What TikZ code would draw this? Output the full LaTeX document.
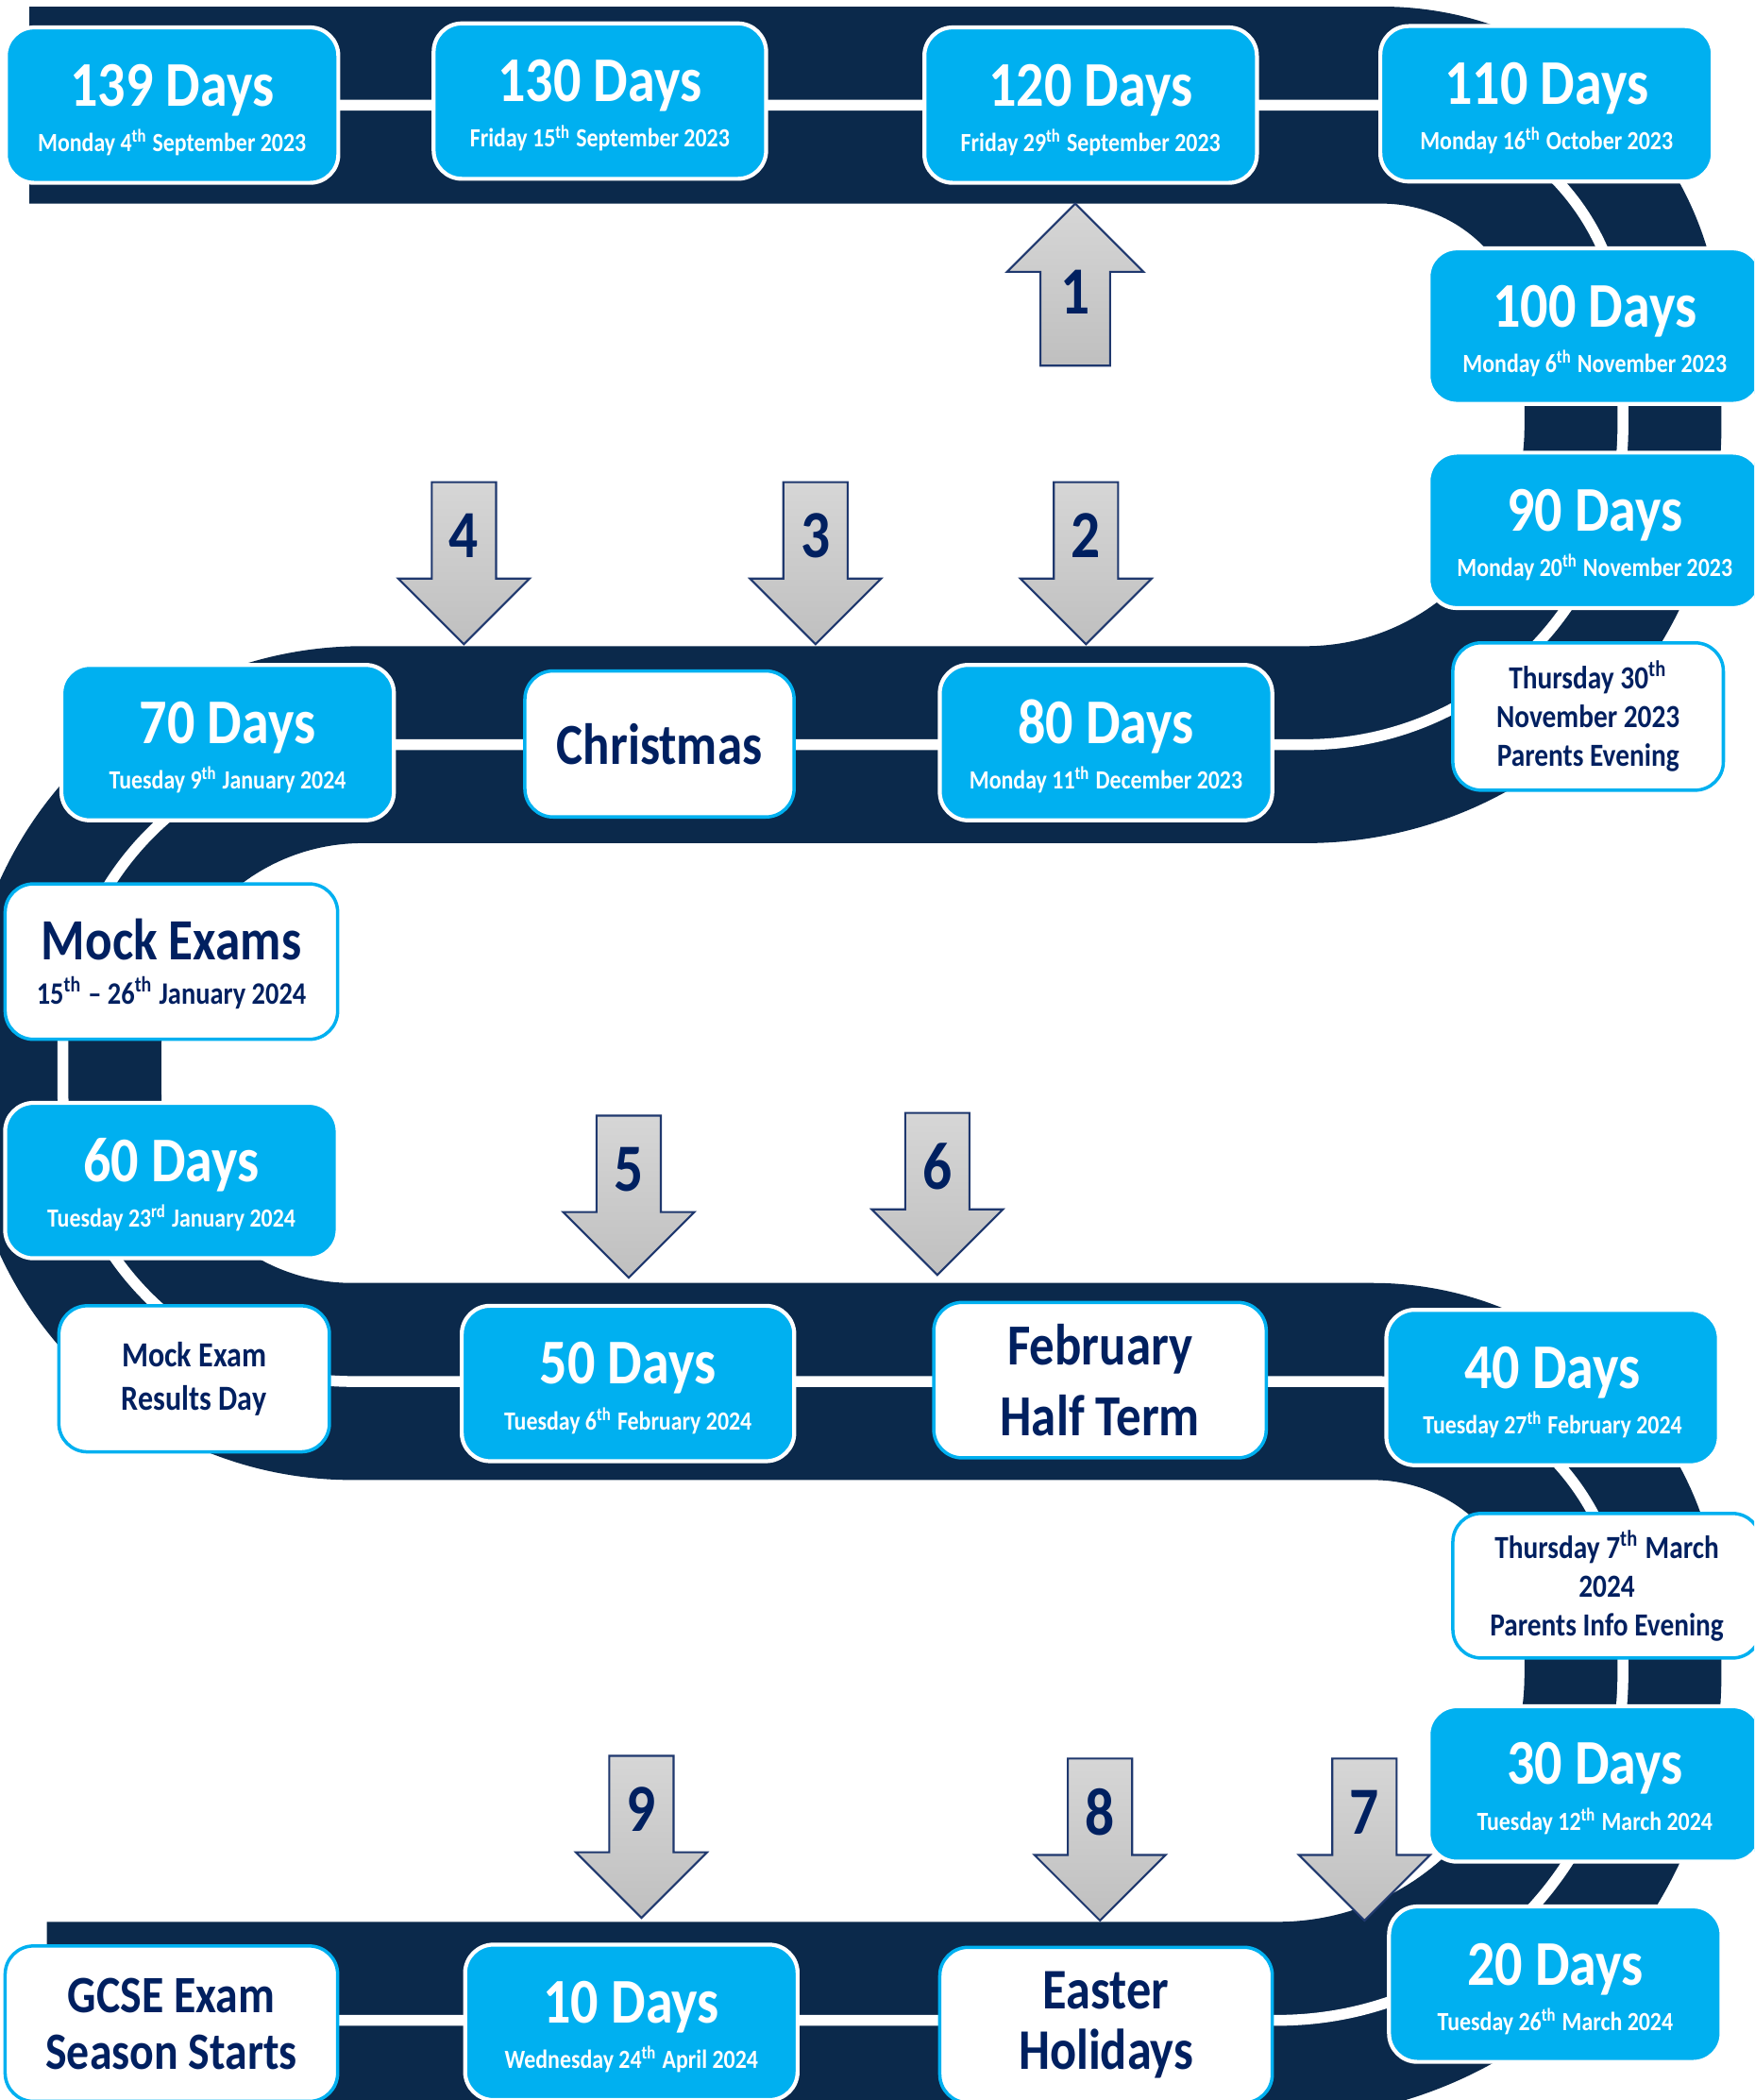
\documentclass[tikz,border=0pt]{standalone}
\usepackage{fontspec}
\setmainfont{Carlito}[FakeStretch=0.86]
\usetikzlibrary{positioning}

\definecolor{roadblue}{RGB}{11,41,75}
\definecolor{skyblue}{RGB}{0,176,240}
\definecolor{navy}{RGB}{0,32,96}
\definecolor{arrowedge}{RGB}{31,56,110}

% blue countdown box: name, position, title, date
\newcommand{\daybox}[4]{%
	\node[daybox]   (#1)       at (#2)                        {};
	\node[daytitle] (#1-title) at ([yshift=-0.2pt]#1.center)  {#3};
	\node[daydate]  (#1-date)  at ([yshift=-13.9pt]#1.center) {#4};
}

\begin{document}
\begin{tikzpicture}[x=0.01418cm, y=-0.01418cm,
	box/.style={rounded corners=0.3cm, minimum width=3.52cm, minimum height=1.645cm, inner sep=0pt},
	daybox/.style={box, fill=skyblue, draw=white, line width=1.2pt},
	evbox/.style={box, fill=white, draw=skyblue, line width=1pt, text=navy, align=center},
	daytitle/.style={anchor=base, inner sep=0pt, text=white, font=\bfseries\fontsize{19.2}{23}\selectfont},
	daydate/.style={anchor=base, inner sep=0pt, text=white, font=\bfseries\fontsize{7.9}{9}\selectfont},
	road/.style={draw=roadblue, line width=0.985cm, double=white, double distance=0.115cm},
	arrowbody/.style={draw=arrowedge, line width=0.6pt, top color=gray!32, bottom color=gray!50},
	arrownum/.style={text=navy, inner sep=0pt, font=\bfseries\fontsize{20.3}{24}\selectfont},
	pics/downarrow/.style={code={
		\draw[arrowbody] (-24,0) -- (24,0) -- (24,72) -- (49,72) -- (0,121) -- (-49,72) -- (-24,72) -- cycle;
		\node[arrownum] (-num) at (0,40) {#1};
	}},
	pics/uparrow/.style={code={
		\draw[arrowbody] (0,0) -- (51,51) -- (26,51) -- (26,121) -- (-26,121) -- (-26,51) -- (-51,51) -- cycle;
		\node[arrownum] (-num) at (0,66) {#1};
	}}]

	\useasboundingbox (0,0) rectangle (1310,1568);
	\clip (0,0) rectangle (1310,1568);
	\fill[white] (0,0) rectangle (1310,1568);

	% the road
	\draw[road] (22,78.5) -- (1032,78.5) arc[start angle=-90, end angle=0, radius=180]
		-- (1212,319) arc[start angle=0, end angle=90, radius=237]
		-- (271,556) arc[start angle=-90, end angle=-180, radius=224]
		-- (47,815.5) arc[start angle=180, end angle=90, radius=216]
		-- (1025,1031.5) arc[start angle=-90, end angle=0, radius=187]
		-- (1212,1250.5) arc[start angle=0, end angle=90, radius=258]
		-- (35,1508.5);

	% numbered arrows
	\pic (a1) at (803,152)   {uparrow=1};
	\pic (a2) at (811,360)   {downarrow=2};
	\pic (a3) at (609,360)   {downarrow=3};
	\pic (a4) at (346.5,360) {downarrow=4};
	\pic (a5) at (469.5,833) {downarrow=5};
	\pic (a6) at (700,831)   {downarrow=6};
	\pic (a7) at (1019,1313) {downarrow=7};
	\pic (a8) at (821.5,1313) {downarrow=8};
	\pic (a9) at (479,1311)  {downarrow=9};

	% countdown boxes
	\daybox{d139}{128.5,78.5}{139 Days}{Monday 4\textsuperscript{th} September 2023}
	\daybox{d130}{448,75.5}{130 Days}{Friday 15\textsuperscript{th} September 2023}
	\daybox{d120}{814.5,78.5}{120 Days}{Friday 29\textsuperscript{th} September 2023}
	\daybox{d110}{1155,77.5}{110 Days}{Monday 16\textsuperscript{th} October 2023}
	\daybox{d100}{1191,243.5}{100 Days}{Monday 6\textsuperscript{th} November 2023}
	\daybox{d90}{1191,396}{90 Days}{Monday 20\textsuperscript{th} November 2023}
	\daybox{d80}{826,554.5}{80 Days}{Monday 11\textsuperscript{th} December 2023}
	\daybox{d70}{170,554.5}{70 Days}{Tuesday 9\textsuperscript{th} January 2024}
	\daybox{d60}{128,881.5}{60 Days}{Tuesday 23\textsuperscript{rd} January 2024}
	\daybox{d50}{469,1033}{50 Days}{Tuesday 6\textsuperscript{th} February 2024}
	\daybox{d40}{1159.5,1036}{40 Days}{Tuesday 27\textsuperscript{th} February 2024}
	\daybox{d30}{1191,1332}{30 Days}{Tuesday 12\textsuperscript{th} March 2024}
	\daybox{d20}{1161.5,1481.5}{20 Days}{Tuesday 26\textsuperscript{th} March 2024}
	\daybox{d10}{471.5,1510}{10 Days}{Wednesday 24\textsuperscript{th} April 2024}

	% events
	\node[evbox, minimum width=2.864cm, minimum height=1.56cm, font=\bfseries\fontsize{9.7}{11.7}\selectfont]
		(pe1) at (1186,535) {Thursday 30\textsuperscript{th}\\November 2023\\Parents Evening};
	\node[evbox, minimum width=2.85cm, minimum height=1.546cm, font=\bfseries\fontsize{17.5}{21}\selectfont]
		(xmas) at (492.5,555.5) {Christmas};
	\node[evbox] (mock) at (128,718) {};
	\node[anchor=base, inner sep=0pt, text=navy, font=\bfseries\fontsize{17.6}{21}\selectfont]
		(mock-title) at ([yshift=0.4pt]mock.center) {Mock Exams};
	\node[anchor=base, inner sep=0pt, text=navy, font=\bfseries\fontsize{9.4}{11}\selectfont]
		(mock-date) at ([yshift=-12.9pt]mock.center) {15\textsuperscript{th} -- 26\textsuperscript{th} January 2024};
	\node[evbox, minimum width=2.864cm, minimum height=1.546cm, font=\bfseries\fontsize{10.6}{12.9}\selectfont]
		(mres) at (145,1029.5) {Mock Exam\\Results Day};
	\node[evbox, font=\bfseries\fontsize{17.5}{21.4}\selectfont]
		(half) at (821.5,1030.5) {February\\Half Term};
	\node[evbox, minimum width=3.26cm, minimum height=1.53cm, font=\bfseries\fontsize{9.7}{11.7}\selectfont]
		(pe2) at (1200,1184) {Thursday 7\textsuperscript{th} March\\2024\\Parents Info Evening};
	\node[evbox, font=\bfseries\fontsize{15.8}{17}\selectfont]
		(gcse) at (128,1511) {GCSE Exam\\Season Starts};
	\node[evbox, font=\bfseries\fontsize{17.3}{18.2}\selectfont]
		(easter) at (826,1512) {Easter\\Holidays};
\end{tikzpicture}
\end{document}
